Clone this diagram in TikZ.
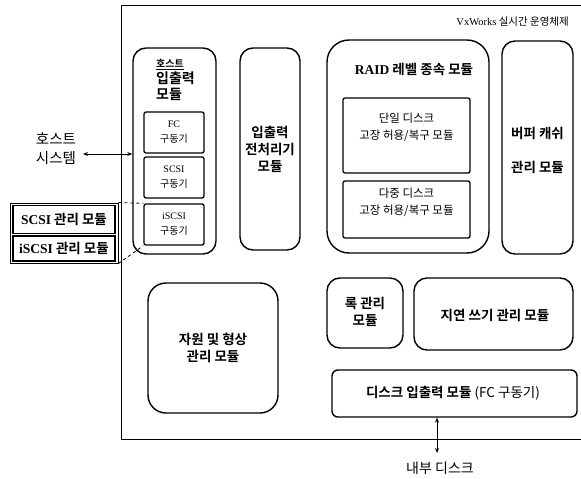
\documentclass[tikz,border=0pt]{standalone}
\usepackage{fontspec}
\setmainfont{Liberation Serif}
\newfontfamily\kr{Noto Sans CJK KR}[BoldFont={Noto Sans CJK KR Bold}]
\newfontfamily\krl{Noto Sans CJK KR}
\newfontfamily\lat{Liberation Serif}
\usetikzlibrary{arrows.meta}
\begin{document}
\begin{tikzpicture}[x=1pt,y=-1pt,
  modbox/.style={draw,line width=1.4pt,rounded corners=13pt,inner sep=0pt},
  subbox/.style={draw,line width=1.3pt,rounded corners=2pt,inner sep=0pt},
  lbl/.style={align=center,inner sep=0pt,font=\kr\bfseries\fontsize{13.5}{17}\selectfont},
  small/.style={align=center,inner sep=0pt,font=\krl\fontsize{10}{15}\selectfont},
  mid/.style={align=center,inner sep=0pt,font=\krl\fontsize{11.5}{17}\selectfont},
  arr/.style={line width=0.9pt,{Stealth[length=5pt,width=4pt]}-{Stealth[length=5pt,width=4pt]}}
]
\useasboundingbox (0,0) rectangle (581,479);
% outer frame
\node[draw,line width=0.9pt,inner sep=0pt,minimum width=466pt,minimum height=434pt] (os) at (354,222) {};
\node[small,anchor=east,font=\krl\fontsize{10.5}{12}\selectfont] (ostxt) at (569,22) {{\lat VxWorks} 실시간 운영체제};

% host I/O module
\node[modbox,minimum width=83pt,minimum height=206pt] (host) at (174.5,151) {};
\node[lbl,anchor=north west,align=left,font=\kr\bfseries\fontsize{14}{17}\selectfont] (hosttxt) at (156,59) {{\fontsize{10}{13}\selectfont\underline{호스트}}\\[-1pt]입출력\\[-1pt]모듈};
\node[subbox,minimum width=60pt,minimum height=41pt] (fc) at (174,132.5) {};
\node[small] (fctxt) at (fc) {{\lat FC}\\구동기};
\node[subbox,minimum width=60pt,minimum height=41pt] (scsi) at (174,177.5) {};
\node[small] (scsitxt) at (scsi) {{\lat SCSI}\\구동기};
\node[subbox,minimum width=60pt,minimum height=41pt] (iscsi) at (174,224.5) {};
\node[small] (iscsitxt) at (iscsi) {{\lat iSCSI}\\구동기};

% preprocessor
\node[modbox,minimum width=60pt,minimum height=202pt] (prep) at (270,149) {};
\node[lbl] (preptxt) at (270,149) {입출력\\전처리기\\모듈};

% RAID
\node[modbox,rounded corners=22pt,minimum width=162pt,minimum height=213pt] (raid) at (408,146.5) {};
\node[lbl] (raidtxt) at (414,69) {{\lat\bfseries RAID} 레벨 종속 모듈};
\node[subbox,minimum width=127pt,minimum height=75pt] (single) at (406.5,135.5) {};
\node[mid] (singletxt) at (406.5,127) {단일 디스크\\고장 허용/복구 모듈};
\node[subbox,minimum width=127pt,minimum height=57pt] (multi) at (406.5,209.5) {};
\node[mid] (multitxt) at (406.5,202) {다중 디스크\\고장 허용/복구 모듈};

% buffer cache
\node[modbox,minimum width=71pt,minimum height=213pt] (buf) at (537.5,147.5) {};
\node[lbl,font=\kr\bfseries\fontsize{13.5}{34}\selectfont] (buftxt) at (537.5,150) {버퍼 캐쉬\\관리 모듈};

% resource
\node[modbox,rounded corners=18pt,minimum width=130pt,minimum height=130pt] (res) at (213,348) {};
\node[lbl] (restxt) at (213,348) {자원 및 형상\\관리 모듈};

% lock
\node[modbox,minimum width=76pt,minimum height=70pt] (lock) at (365,313) {};
\node[lbl] (locktxt) at (365,312) {록 관리\\모듈};

% lazy write
\node[modbox,minimum width=159pt,minimum height=72pt] (lazy) at (493.5,314) {};
\node[lbl] (lazytxt) at (495,315) {지연 쓰기 관리 모듈};

% disk io
\node[draw,line width=1.4pt,rounded corners=6pt,inner sep=0pt,minimum width=245pt,minimum height=47pt] (dio) at (454.5,393.5) {};
\node[lbl] (diotxt) at (453,393) {디스크 입출력 모듈 {\krl\mdseries(FC 구동기)}};

% internal disk
\coordinate (dend) at (437,453);
\node[small,font=\krl\fontsize{14}{16}\selectfont] (disk) at (440,468) {내부 디스크};
\draw[arr] (dio.south -| dend) -- (dend);

% host system
\node[small,font=\krl\fontsize{14.5}{19}\selectfont] (hs) at (56,149) {호스트\\시스템};
\coordinate (hend) at (83,154);
\draw[arr] (hend) -- (hend -| host.west);

% management modules
\node[draw,line width=1pt,inner sep=0pt,minimum width=108pt,minimum height=60pt] (mgmt) at (64,233) {};
\node[draw,line width=1.3pt,inner sep=0pt,minimum width=102pt,minimum height=28pt] (smgmt) at (64,219.5) {};
\node[lbl,font=\kr\bfseries\fontsize{13.5}{15}\selectfont] (smgmttxt) at (smgmt) {{\lat\bfseries SCSI} 관리 모듈};
\node[draw,line width=1.3pt,inner sep=0pt,minimum width=102pt,minimum height=25pt] (imgmt) at (64,248.5) {};
\node[lbl,font=\kr\bfseries\fontsize{13.5}{15}\selectfont] (imgmttxt) at (imgmt) {{\lat\bfseries iSCSI} 관리 모듈};
\draw[dashed,line width=0.8pt] (mgmt.north east) -- (iscsi.north west);
\draw[dashed,line width=0.8pt] (mgmt.south east) -- (iscsi.south west);
\end{tikzpicture}
\end{document}
